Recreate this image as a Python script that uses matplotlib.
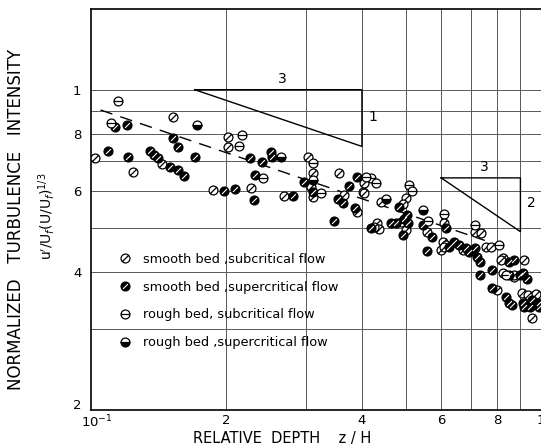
import matplotlib
matplotlib.use("Agg")
import matplotlib.pyplot as plt
import matplotlib.transforms as mtransforms
import numpy as np
from matplotlib.path import Path

# data (z/H, normalized intensity)
smooth_sub_x = [0.102, 0.124, 0.144, 0.152, 0.202, 0.202, 0.187, 0.227, 0.269, 0.303,
                0.311, 0.309, 0.311, 0.356, 0.365, 0.402, 0.404, 0.404, 0.390, 0.441,
                0.432, 0.437, 0.426, 0.489, 0.501, 0.494, 0.501, 0.559, 0.610, 0.606,
                0.616, 0.600, 0.672, 0.715, 0.737, 0.756, 0.776, 0.825, 0.915, 0.817,
                0.825, 0.873, 0.797, 0.869, 0.906, 0.938, 0.977, 0.953, 0.610, 0.690]
smooth_sub_y = [0.71, 0.66, 0.69, 0.87, 0.79, 0.75, 0.605, 0.61, 0.587, 0.714,
                0.659, 0.614, 0.584, 0.659, 0.590, 0.599, 0.626, 0.596, 0.541, 0.569,
                0.512, 0.497, 0.502, 0.515, 0.581, 0.564, 0.494, 0.489, 0.512, 0.465,
                0.458, 0.447, 0.447, 0.489, 0.487, 0.453, 0.453, 0.429, 0.425, 0.425,
                0.398, 0.390, 0.365, 0.394, 0.360, 0.356, 0.358, 0.318, 0.453, 0.447]

smooth_sup_x = [0.113, 0.120, 0.109, 0.121, 0.135, 0.138, 0.141, 0.150, 0.156, 0.161,
                0.152, 0.156, 0.170, 0.226, 0.240, 0.251, 0.252, 0.232, 0.198, 0.209,
                0.230, 0.281, 0.297, 0.311, 0.374, 0.390, 0.354, 0.363, 0.386, 0.347,
                0.419, 0.464, 0.484, 0.476, 0.496, 0.504, 0.507, 0.494, 0.547, 0.573,
                0.559, 0.616, 0.626, 0.642, 0.658, 0.683, 0.693, 0.715, 0.719, 0.733,
                0.733, 0.780, 0.847, 0.869, 0.847, 0.896, 0.929, 0.780, 0.837, 0.851,
                0.860, 0.910, 0.953, 0.988, 0.915, 0.943, 0.988, 0.910]
smooth_sup_y = [0.830, 0.838, 0.736, 0.714, 0.736, 0.721, 0.711, 0.679, 0.669, 0.649,
                0.786, 0.751, 0.714, 0.711, 0.697, 0.732, 0.714, 0.652, 0.602, 0.608,
                0.575, 0.587, 0.630, 0.599, 0.617, 0.645, 0.578, 0.567, 0.553, 0.517,
                0.499, 0.512, 0.556, 0.512, 0.523, 0.533, 0.512, 0.482, 0.507, 0.477,
                0.445, 0.499, 0.453, 0.465, 0.458, 0.451, 0.442, 0.451, 0.431, 0.420,
                0.394, 0.404, 0.420, 0.425, 0.394, 0.394, 0.386, 0.369, 0.352, 0.343,
                0.339, 0.343, 0.347, 0.343, 0.335, 0.335, 0.335, 0.398]

rough_sub_x = [0.115, 0.111, 0.217, 0.213, 0.241, 0.311, 0.324, 0.419, 0.430, 0.409,
               0.509, 0.517, 0.561, 0.610, 0.715, 0.805, 0.837]
rough_sub_y = [0.946, 0.847, 0.797, 0.755, 0.642, 0.693, 0.596, 0.642, 0.626, 0.645,
               0.620, 0.602, 0.517, 0.536, 0.507, 0.458, 0.394]

rough_sup_x = [0.172, 0.265, 0.311, 0.547, 0.453]
rough_sup_y = [0.838, 0.714, 0.636, 0.547, 0.578]

labels = ["smooth bed ,subcritical flow", "smooth bed ,supercritical flow",
          "rough bed, subcritical flow", "rough bed ,supercritical flow"]

# fitted -1/3 line
fit_coef = 0.426
fit_x = [0.105, 0.75]

xticks = [0.1, 0.2, 0.4, 0.6, 0.8, 1.0]
xticklabels = [r"10$^{-1}$", "2", "4", "6", "8", "1"]
yticks = [0.2, 0.4, 0.6, 0.8, 1.0]
yticklabels = ["2", "4", "6", "8", "1"]
xgrid = [0.2, 0.3, 0.4, 0.5, 0.6, 0.7, 0.8, 0.9]
ygrid = [0.3, 0.4, 0.5, 0.6, 0.7, 0.8, 0.9, 1.0]

# marker shapes
circ = Path.unit_circle()
slash = Path([(-0.72, -0.72), (0.72, 0.72)], [Path.MOVETO, Path.LINETO])
bar = Path([(-1.0, 0.0), (1.0, 0.0)], [Path.MOVETO, Path.LINETO])
M_SLASH_CIRC = Path.make_compound_path(circ, slash)
M_BAR_CIRC = Path.make_compound_path(circ, bar)
M_SLASH = Path([(-1.0, -1.0), (1.0, 1.0)], [Path.MOVETO, Path.LINETO])

MS = 6.4
MEW = 0.9

fig = plt.figure(figsize=(5.41, 4.46), dpi=100)
ax = fig.add_axes([91 / 541, 36 / 446, 450 / 541, 401 / 446])
ax.set_xscale("log")
ax.set_yscale("log")
ax.set_xlim(0.1, 1.0)
ax.set_ylim(0.2, 1.5)

for g in xgrid:
    ax.axvline(g, color="0.35", lw=0.7, zorder=1)
for g in ygrid:
    ax.axhline(g, color="0.35", lw=0.7, zorder=1)

# triangles showing slopes
ax.plot([0.17, 0.4, 0.4, 0.17], [1.0, 1.0, 0.752, 1.0], color="k", lw=1.0, zorder=2)
ax.plot([0.6, 0.9, 0.9, 0.6], [0.642, 0.642, 0.49, 0.642], color="k", lw=1.0, zorder=2)
ax.text(0.266, 1.056, "3", fontsize=10, ha="center", va="center")
ax.text(0.423, 0.873, "1", fontsize=10, ha="center", va="center")
ax.text(0.75, 0.678, "3", fontsize=10, ha="center", va="center")
ax.text(0.95, 0.566, "2", fontsize=10, ha="center", va="center")

fx = np.geomspace(fit_x[0], fit_x[1], 50)
ax.plot(fx, fit_coef * fx ** (-1 / 3), color="k", lw=1.0, ls=(0, (9, 6)), zorder=2)

# data
h1 = ax.plot(smooth_sub_x, smooth_sub_y, ls="none", marker=M_SLASH_CIRC, ms=MS,
             mfc="white", mec="k", mew=MEW, zorder=3)[0]
h2a = ax.plot(smooth_sup_x, smooth_sup_y, ls="none", marker="o", ms=MS, mfc="k",
              mec="k", mew=MEW, zorder=3)[0]
h2b = ax.plot(smooth_sup_x, smooth_sup_y, ls="none", marker=M_SLASH, ms=MS * 0.55,
              mec="white", mew=0.8, zorder=3.1)[0]
h3 = ax.plot(rough_sub_x, rough_sub_y, ls="none", marker=M_BAR_CIRC, ms=MS,
             mfc="white", mec="k", mew=MEW, zorder=3)[0]
h4 = ax.plot(rough_sup_x, rough_sup_y, ls="none", marker="o", ms=MS, mfc="k",
             mfcalt="white", fillstyle="bottom", mec="k", mew=MEW, zorder=3)[0]

leg = ax.legend([h1, (h2a, h2b), h3, h4], labels, loc="upper left",
                bbox_to_anchor=(0.049, 0.405), frameon=False, fontsize=9.3,
                handlelength=1.0, handletextpad=0.9, labelspacing=1.15,
                borderaxespad=0)

ax.set_xticks(xticks)
ax.set_xticklabels(xticklabels)
ax.set_yticks(yticks)
ax.set_yticklabels(yticklabels)
ax.xaxis.set_minor_locator(matplotlib.ticker.NullLocator())
ax.yaxis.set_minor_locator(matplotlib.ticker.NullLocator())
ax.tick_params(length=0, labelsize=9.5, pad=3)
ax.tick_params(axis="y", pad=7)
# nudge the corner labels apart as in the original
ax.get_xticklabels()[0].set_transform(
    ax.get_xaxis_text1_transform(3)[0]
    + mtransforms.ScaledTranslation(6 / 100, 0, fig.dpi_scale_trans))
ax.get_yticklabels()[0].set_transform(
    ax.get_yaxis_text1_transform(7)[0]
    + mtransforms.ScaledTranslation(0, 6 / 100, fig.dpi_scale_trans))
ax.spines["right"].set_visible(False)
for s in ["top", "left", "bottom"]:
    ax.spines[s].set_linewidth(1.2)

fig.text(282 / 541, 1 - 438 / 446, "RELATIVE  DEPTH    z / H", fontsize=10.5,
         ha="center", va="center")
fig.text(16 / 541, 1 - 219 / 446, "NORMALIZED   TURBULENCE   INTENSITY", fontsize=12,
         rotation=90, ha="center", va="center")
fig.text(47 / 541, 1 - 216 / 446, r"u$'$/U$_f$(U/U$_f$)$^{1/3}$", fontsize=10,
         rotation=90, ha="center", va="center")

fig.savefig("out.png", dpi=100)
